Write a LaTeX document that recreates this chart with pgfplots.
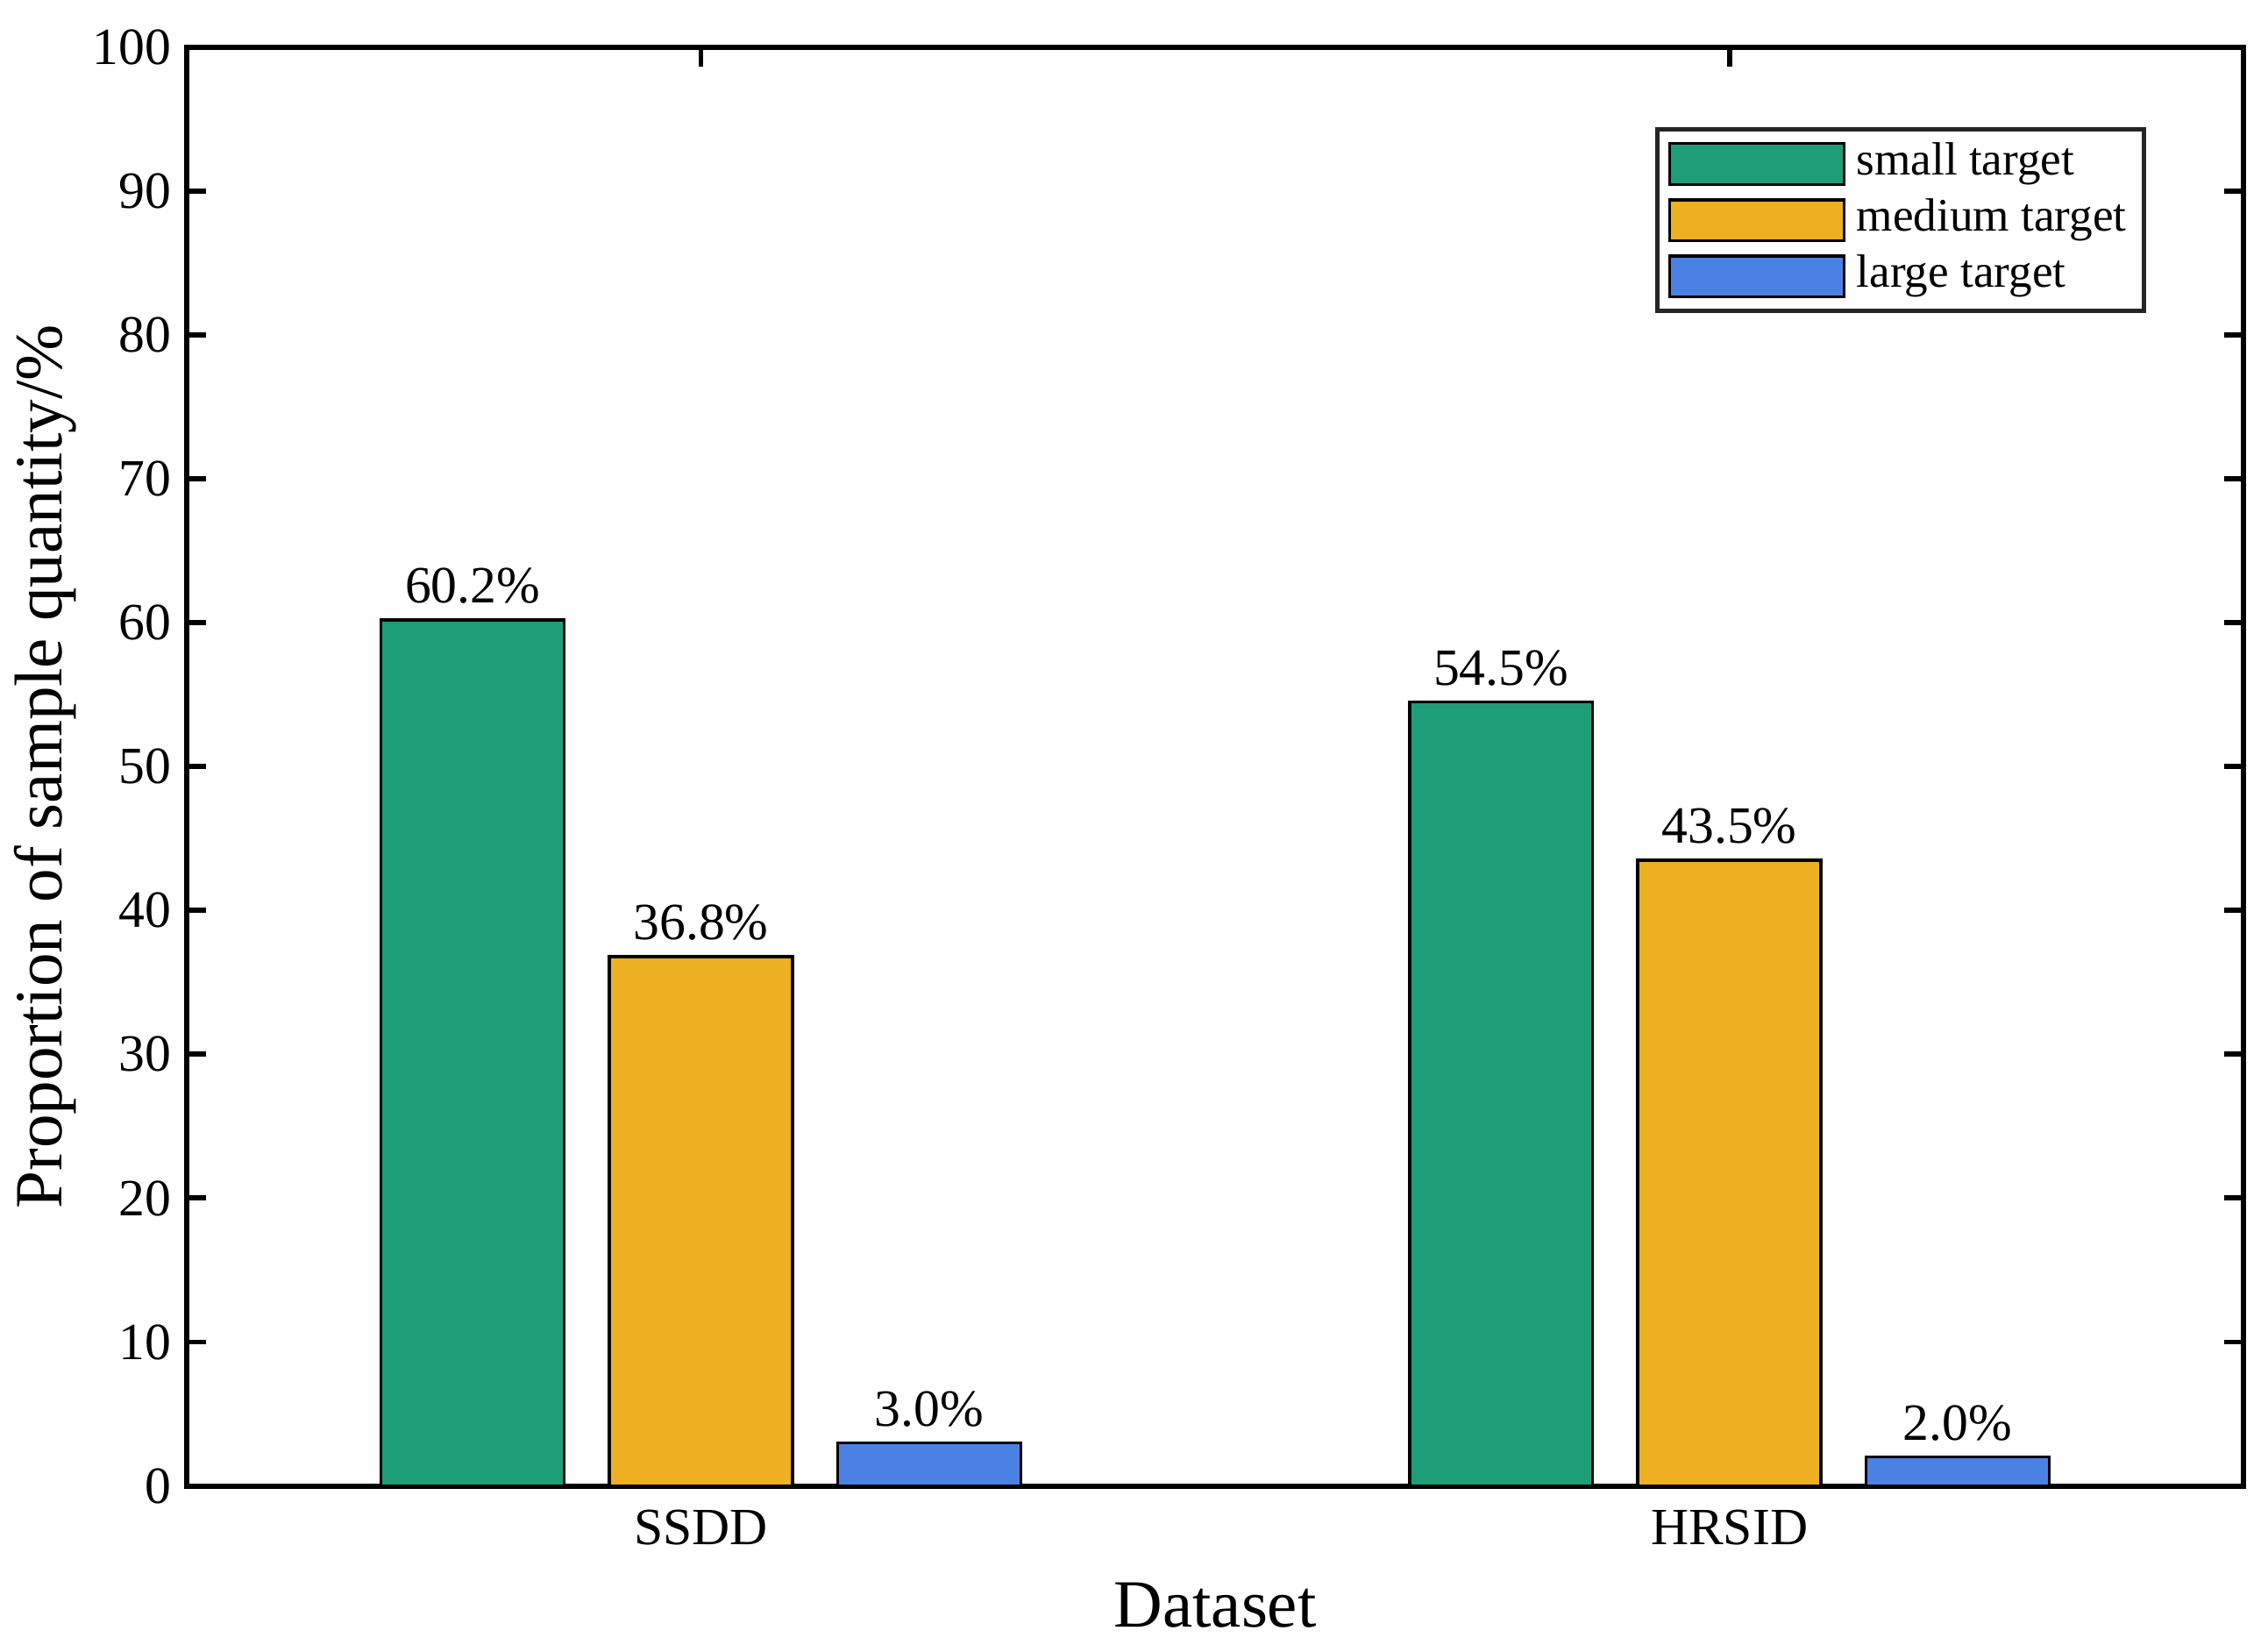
\documentclass[border=0pt]{standalone}
\usepackage{fontspec}
\setmainfont{Liberation Serif}
\usepackage{pgfplots}
\pgfplotsset{compat=1.18}

\definecolor{cSmall}{RGB}{29,158,120}
\definecolor{cMedium}{RGB}{237,176,34}
\definecolor{cLarge}{RGB}{75,129,227}

\begin{document}
\begin{tikzpicture}
	\begin{axis}[
			scale only axis,
			width=472pt,
			height=330pt,
			ybar,
			bar width=0.178,
			xmin=-0.5, xmax=1.5,
			ymin=0, ymax=100,
			ytick={0,10,...,100},
			xtick={0,1},
			xticklabels={SSDD, HRSID},
			axis line style={line width=1.2pt},
			major tick style={line width=1.2pt, black},
			major tick length=4.4pt,
			tick align=inside,
			/pgf/number format/assume math mode=true,
			ticklabel style={font=\fontsize{12}{14}\selectfont},
			xticklabel style={yshift=-2pt},
			xlabel={Dataset},
			ylabel={Proportion of sample quantity/\%},
			label style={font=\fontsize{15.5}{18}\selectfont},
			xlabel style={at={(axis description cs:0.5,-0.0828)}, anchor=center},
			ylabel style={at={(axis description cs:-0.0686,0.5)}, anchor=center},
			nodes near coords,
			every node near coord/.append style={font=\fontsize{12}{14}\selectfont, black},
			legend style={
				at={(0.9525,0.9446)}, anchor=north east,
				draw=black!85, line width=1pt,
				font=\fontsize{10.7}{13}\selectfont,
				inner xsep=2.5pt, inner ysep=1.5pt,
				row sep=0pt,
				nodes={inner sep=1.5pt, text height=7.5pt, text depth=2.4pt},
			},
			legend cell align=left,
			legend image code/.code={
				\draw[#1, line width=0.7pt] (0pt,-4.7pt) rectangle (40pt,4.7pt);
			},
		]
		\addplot+[bar shift=-0.222, fill=cSmall, draw=black, line width=0.7pt, point meta=explicit symbolic]
		coordinates {
			(0, 60.2) [60.2\%]
			(1, 54.5) [54.5\%]
		};
		\addplot+[bar shift=0, fill=cMedium, draw=black, line width=0.7pt, point meta=explicit symbolic]
		coordinates {
			(0, 36.8) [36.8\%]
			(1, 43.5) [43.5\%]
		};
		\addplot+[bar shift=0.222, fill=cLarge, draw=black, line width=0.7pt, point meta=explicit symbolic]
		coordinates {
			(0, 3.0) [3.0\%]
			(1, 2.0) [2.0\%]
		};
		\legend{\hspace{1pt}small target, \hspace{1pt}medium target, \hspace{1pt}large target}
	\end{axis}
	\path ([shift={(-42.4pt,-36.4pt)}]current axis.south west)
		rectangle ([shift={(5.6pt,10.9pt)}]current axis.north east);
\end{tikzpicture}
\end{document}
